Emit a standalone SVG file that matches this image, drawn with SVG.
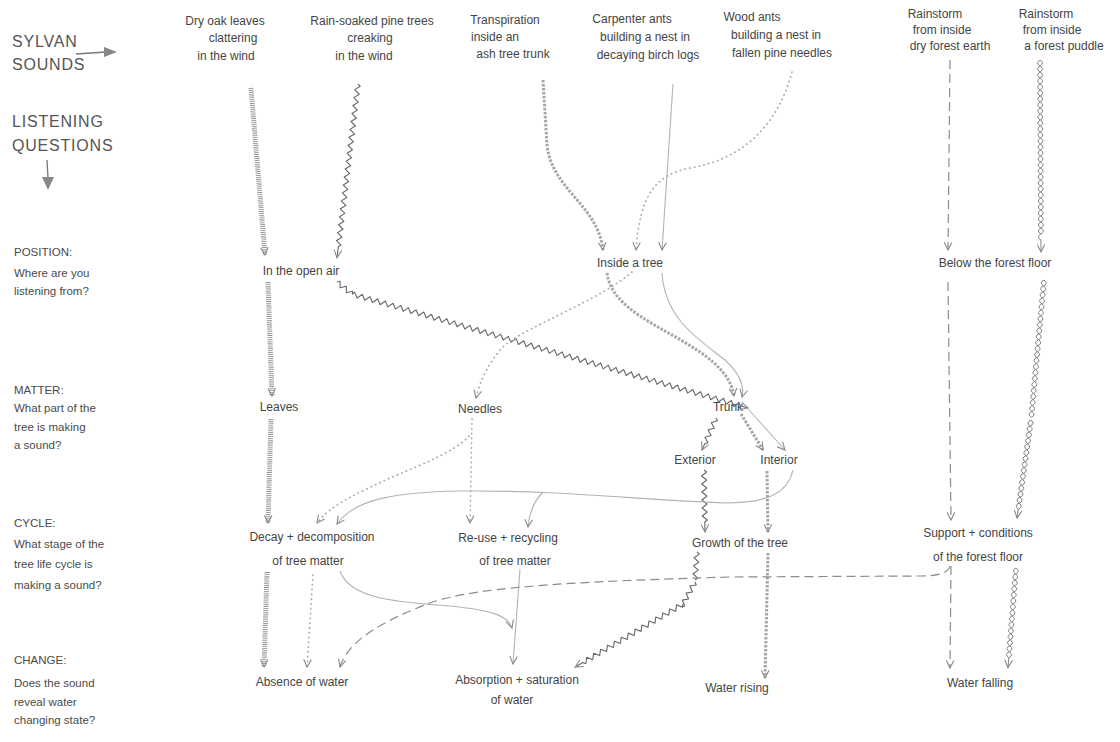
<svg xmlns="http://www.w3.org/2000/svg" width="1120" height="742" viewBox="0 0 1120 742">
<style>
text{font-family:"Liberation Sans","DejaVu Sans",sans-serif;font-size:12px;fill:#444}
.h{font-size:16px;fill:#555;letter-spacing:0.8px}
.q{font-size:11.5px;fill:#4a4a4a}
.c{text-anchor:middle}
.ln{fill:none;stroke-linejoin:round}
.hatch{stroke:#858585;stroke-width:5;stroke-dasharray:0.8 1.1}
.zig{stroke:#666;stroke-width:1.1}
.bead{stroke:#a6a6a6;stroke-width:3;stroke-dasharray:2.5 1.5}
.solid{stroke:#b3b3b3;stroke-width:1.1}
.dot{stroke:#aaa;stroke-width:1.7;stroke-dasharray:0.4 4.4;stroke-linecap:round}
.dash{stroke:#8c8c8c;stroke-width:1.2;stroke-dasharray:9 5}
.helix{stroke:#777;stroke-width:0.9}
</style>
<defs>
<marker id="ah" viewBox="0 0 10 10" refX="9" refY="5" markerWidth="9" markerHeight="9" markerUnits="userSpaceOnUse" orient="auto">
<path d="M0.5,0.8 L9,5 L0.5,9.2" fill="none" stroke="#888" stroke-width="1.2"/>
</marker>
</defs>
<rect width="1120" height="742" fill="#fff"/>

<g id="legend">
<text class="h" x="12" y="47">SYLVAN</text>
<text class="h" x="12" y="70">SOUNDS</text>
<path d="M76,54 L106,52" fill="none" stroke="#777" stroke-width="1.3"/>
<polygon points="104,47 117,52 104,57" fill="#888"/>
<text class="h" x="12" y="127">LISTENING</text>
<text class="h" x="12" y="151">QUESTIONS</text>
<path d="M47,160 L48,178" fill="none" stroke="#777" stroke-width="1.3"/>
<polygon points="42,177 48,190 54,177" fill="#888"/>
</g>

<g id="q-position"><text class="q" x="14" y="256">POSITION:</text><text class="q" x="14" y="277">Where are you</text><text class="q" x="14" y="295">listening from?</text></g>
<g id="q-matter"><text class="q" x="14" y="394">MATTER:</text><text class="q" x="14" y="412">What part of the</text><text class="q" x="14" y="431">tree is making</text><text class="q" x="14" y="449">a sound?</text></g>
<g id="q-cycle"><text class="q" x="14" y="527">CYCLE:</text><text class="q" x="14" y="548">What stage of the</text><text class="q" x="14" y="568">tree life cycle is</text><text class="q" x="14" y="589">making a sound?</text></g>
<g id="q-change"><text class="q" x="14" y="664">CHANGE:</text><text class="q" x="14" y="687">Does the sound</text><text class="q" x="14" y="706">reveal water</text><text class="q" x="14" y="724">changing state?</text></g>

<g id="src-oak" class="c"><text x="225" y="25">Dry oak leaves</text><text x="233" y="42">clattering</text><text x="226" y="60">in the wind</text></g>
<g id="src-pine" class="c"><text x="372" y="25">Rain-soaked pine trees</text><text x="370" y="42">creaking</text><text x="364" y="60">in the wind</text></g>
<g id="src-ash" class="c"><text x="505" y="24">Transpiration</text><text x="495" y="41">inside an</text><text x="513" y="58">ash tree trunk</text></g>
<g id="src-carpenter" class="c"><text x="632" y="23">Carpenter ants</text><text x="645" y="41">building a nest in</text><text x="648" y="59">decaying birch logs</text></g>
<g id="src-wood" class="c"><text x="752" y="21">Wood ants</text><text x="776" y="39">building a nest in</text><text x="782" y="57">fallen pine needles</text></g>
<g id="src-earth" class="c"><text x="935" y="18">Rainstorm</text><text x="942" y="34">from inside</text><text x="950" y="50">dry forest earth</text></g>
<g id="src-puddle" class="c"><text x="1046" y="18">Rainstorm</text><text x="1052" y="34">from inside</text><text x="1064" y="50">a forest puddle</text></g>

<g id="n-open-air" class="c"><text x="301" y="275">In the open air</text></g>
<g id="n-inside-tree" class="c"><text x="630" y="267">Inside a tree</text></g>
<g id="n-below-floor" class="c"><text x="995" y="267">Below the forest floor</text></g>
<g id="n-leaves" class="c"><text x="279" y="411">Leaves</text></g>
<g id="n-needles" class="c"><text x="480" y="413">Needles</text></g>
<g id="n-trunk" class="c"><text x="728" y="411">Trunk</text></g>
<g id="n-exterior" class="c"><text x="695" y="464">Exterior</text></g>
<g id="n-interior" class="c"><text x="779" y="464">Interior</text></g>
<g id="n-decay" class="c"><text x="312" y="541">Decay + decomposition</text><text x="308" y="565">of tree matter</text></g>
<g id="n-reuse" class="c"><text x="508" y="542">Re-use + recycling</text><text x="515" y="565">of tree matter</text></g>
<g id="n-growth" class="c"><text x="740" y="547">Growth of the tree</text></g>
<g id="n-support" class="c"><text x="978" y="537">Support + conditions</text><text x="978" y="561">of the forest floor</text></g>
<g id="n-absence" class="c"><text x="302" y="686">Absence of water</text></g>
<g id="n-absorption" class="c"><text x="517" y="684">Absorption + saturation</text><text x="512" y="704">of water</text></g>
<g id="n-rising" class="c"><text x="737" y="692">Water rising</text></g>
<g id="n-falling" class="c"><text x="980" y="687">Water falling</text></g>

<g id="connectors">
<!-- Dry oak leaves: hatched -->
<path class="ln hatch" d="M251,88 L265,255" marker-end="url(#ah)"/>
<path class="ln hatch" d="M268,282 L272,396" marker-end="url(#ah)"/>
<path class="ln hatch" d="M271,419 L268,523" marker-end="url(#ah)"/>
<path class="ln hatch" d="M267,572 L264,667" marker-end="url(#ah)"/>

<!-- Rain-soaked pine trees: zigzag -->
<path class="ln zig" transform="translate(358,84) rotate(96.9)" d="M0,0 l2,-2.5 4,5 4,-5 4,5 4,-5 4,5 4,-5 4,5 4,-5 4,5 4,-5 4,5 4,-5 4,5 4,-5 4,5 4,-5 4,5 4,-5 4,5 4,-5 4,5 4,-5 4,5 4,-5 4,5 4,-5 4,5 4,-5 4,5 4,-5 4,5 4,-5 4,5 4,-5 4,5 4,-5 4,5 4,-5 4,5 4,-5 2,2.5 h11" marker-end="url(#ah)"/>
<path class="ln zig" transform="translate(337,282) rotate(38.7)" d="M0,0 l2,-2.5 4,5 4,-5 4,5 4,-5 2,2.5"/>
<path class="ln zig" transform="translate(352,294) rotate(16.05)" d="M0,0 l2,-2.5 4,5 4,-5 4,5 4,-5 4,5 4,-5 4,5 4,-5 4,5 4,-5 4,5 4,-5 4,5 4,-5 4,5 4,-5 4,5 4,-5 4,5 4,-5 4,5 4,-5 4,5 4,-5 4,5 4,-5 4,5 4,-5 4,5 4,-5 4,5 4,-5 4,5 4,-5 4,5 4,-5 4,5 4,-5 4,5 4,-5 4,5 4,-5 4,5 4,-5 4,5 4,-5 4,5 4,-5 4,5 4,-5 4,5 4,-5 4,5 4,-5 4,5 4,-5 4,5 4,-5 4,5 4,-5 4,5 4,-5 4,5 4,-5 4,5 4,-5 4,5 4,-5 4,5 4,-5 4,5 4,-5 4,5 4,-5 4,5 4,-5 4,5 4,-5 4,5 4,-5 4,5 4,-5 4,5 4,-5 4,5 4,-5 4,5 4,-5 4,5 4,-5 4,5 4,-5 4,5 4,-5 4,5 4,-5 4,5 4,-5 4,5 4,-5 2,2.5 h8" marker-end="url(#ah)"/>
<path class="ln zig" transform="translate(716,418) rotate(113.6)" d="M0,0 l2,-2.5 4,5 4,-5 4,5 4,-5 4,5 4,-5 2,2.5 h7" marker-end="url(#ah)"/>
<path class="ln zig" transform="translate(704,470) rotate(89.1)" d="M0,0 l2,-2.5 4,5 4,-5 4,5 4,-5 4,5 4,-5 4,5 4,-5 4,5 4,-5 4,5 4,-5 2,2.5 h10" marker-end="url(#ah)"/>
<path class="ln zig" transform="translate(697,552) rotate(93.8)" d="M0,0 l2,-2.5 4,5 4,-5 4,5 4,-5 4,5 4,-5 2,2.5"/>
<path class="ln zig" transform="translate(695,582) rotate(118.6)" d="M0,0 l2,-2.5 4,5 4,-5 4,5 4,-5 4,5 4,-5 2,2.5"/>
<path class="ln zig" transform="translate(683,604) rotate(149.7)" d="M0,0 l2,-2.5 4,5 4,-5 4,5 4,-5 4,5 4,-5 4,5 4,-5 4,5 4,-5 4,5 4,-5 4,5 4,-5 4,5 4,-5 4,5 4,-5 4,5 4,-5 4,5 4,-5 4,5 4,-5 4,5 4,-5 4,5 4,-5 2,2.5 h9" marker-end="url(#ah)"/>

<!-- Transpiration: beaded -->
<path class="ln bead" d="M543,80 L547,145 C552,190 598,205 603,250" marker-end="url(#ah)"/>
<path class="ln bead" d="M607,273 C612,310 660,325 700,352 C720,366 732,380 734,396" marker-end="url(#ah)"/>
<path class="ln bead" d="M741,414 L763,450" marker-end="url(#ah)"/>
<path class="ln bead" d="M767,471 L768,532" marker-end="url(#ah)"/>
<path class="ln bead" d="M768,553 L765,678" marker-end="url(#ah)"/>

<!-- Carpenter ants: solid -->
<path class="ln solid" d="M673,84 L662,250" marker-end="url(#ah)"/>
<path class="ln solid" d="M662,273 C665,320 700,340 725,360 C738,372 745,385 742,397" marker-end="url(#ah)"/>
<path class="ln solid" d="M748,409 L785,450" marker-end="url(#ah)"/>
<path class="ln solid" d="M793,470 C788,492 770,503 725,503 C640,500 560,490 460,491 C400,492 355,498 337,524" marker-end="url(#ah)"/>
<path class="ln solid" d="M543,492 Q530,505 528,527" marker-end="url(#ah)"/>
<path class="ln solid" d="M340,571 C350,600 400,602 450,606 C490,610 508,615 512,628" marker-end="url(#ah)"/>
<path class="ln solid" d="M520,569 L513,664" marker-end="url(#ah)"/>

<!-- Wood ants: dotted -->
<path class="ln dot" d="M792,72 C777,128 740,160 690,168 C655,175 640,195 636,250" marker-end="url(#ah)"/>
<path class="ln dot" d="M632,272 C600,300 530,325 505,345 C490,360 480,380 476,398" marker-end="url(#ah)"/>
<path class="ln dot" d="M472,419 L470,523" marker-end="url(#ah)"/>
<path class="ln dot" d="M469,436 C455,452 420,465 390,478 C360,492 330,505 317,523" marker-end="url(#ah)"/>
<path class="ln dot" d="M313,575 L307,667" marker-end="url(#ah)"/>

<!-- Rainstorm dry earth: dashed -->
<path class="ln dash" d="M950,60 L948,250" marker-end="url(#ah)"/>
<path class="ln dash" d="M948,282 L951,520" marker-end="url(#ah)"/>
<path class="ln dash" d="M951,566 L950,668" marker-end="url(#ah)"/>
<path class="ln dash" d="M950,566 Q948,576 920,576 L730,577 C600,581 480,585 430,603 C385,620 348,640 340,667" marker-end="url(#ah)"/>

<!-- Rainstorm puddle: helix -->
<g transform="translate(1040,60) rotate(89.7)">
<path class="ln helix" d="M0,0 q3,-5 6,0 t6,0 6,0 6,0 6,0 6,0 6,0 6,0 6,0 6,0 6,0 6,0 6,0 6,0 6,0 6,0 6,0 6,0 6,0 6,0 6,0 6,0 6,0 6,0 6,0 6,0 6,0 6,0 6,0 6,0 h12" marker-end="url(#ah)"/>
<path class="ln helix" d="M0,0 q3,5 6,0 t6,0 6,0 6,0 6,0 6,0 6,0 6,0 6,0 6,0 6,0 6,0 6,0 6,0 6,0 6,0 6,0 6,0 6,0 6,0 6,0 6,0 6,0 6,0 6,0 6,0 6,0 6,0 6,0"/>
</g>
<g transform="translate(1044,280) rotate(95.3)">
<path class="ln helix" d="M0,0 q3,-5 6,0 t6,0 6,0 6,0 6,0 6,0 6,0 6,0 6,0 6,0 6,0 6,0 6,0 6,0 6,0 6,0 6,0 6,0 6,0 6,0 6,0 6,0 6,0"/>
<path class="ln helix" d="M0,0 q3,5 6,0 t6,0 6,0 6,0 6,0 6,0 6,0 6,0 6,0 6,0 6,0 6,0 6,0 6,0 6,0 6,0 6,0 6,0 6,0 6,0 6,0 6,0 6,0"/>
</g>
<g transform="translate(1031,420) rotate(98.1)">
<path class="ln helix" d="M0,0 q3,-5 6,0 t6,0 6,0 6,0 6,0 6,0 6,0 6,0 6,0 6,0 6,0 6,0 6,0 6,0 6,0 h9" marker-end="url(#ah)"/>
<path class="ln helix" d="M0,0 q3,5 6,0 t6,0 6,0 6,0 6,0 6,0 6,0 6,0 6,0 6,0 6,0 6,0 6,0 6,0 6,0"/>
</g>
<g transform="translate(1016,568) rotate(94.6)">
<path class="ln helix" d="M0,0 q3,-5 6,0 t6,0 6,0 6,0 6,0 6,0 6,0 6,0 6,0 6,0 6,0 6,0 6,0 6,0 6,0 h10" marker-end="url(#ah)"/>
<path class="ln helix" d="M0,0 q3,5 6,0 t6,0 6,0 6,0 6,0 6,0 6,0 6,0 6,0 6,0 6,0 6,0 6,0 6,0 6,0"/>
</g>
</g>
</svg>
